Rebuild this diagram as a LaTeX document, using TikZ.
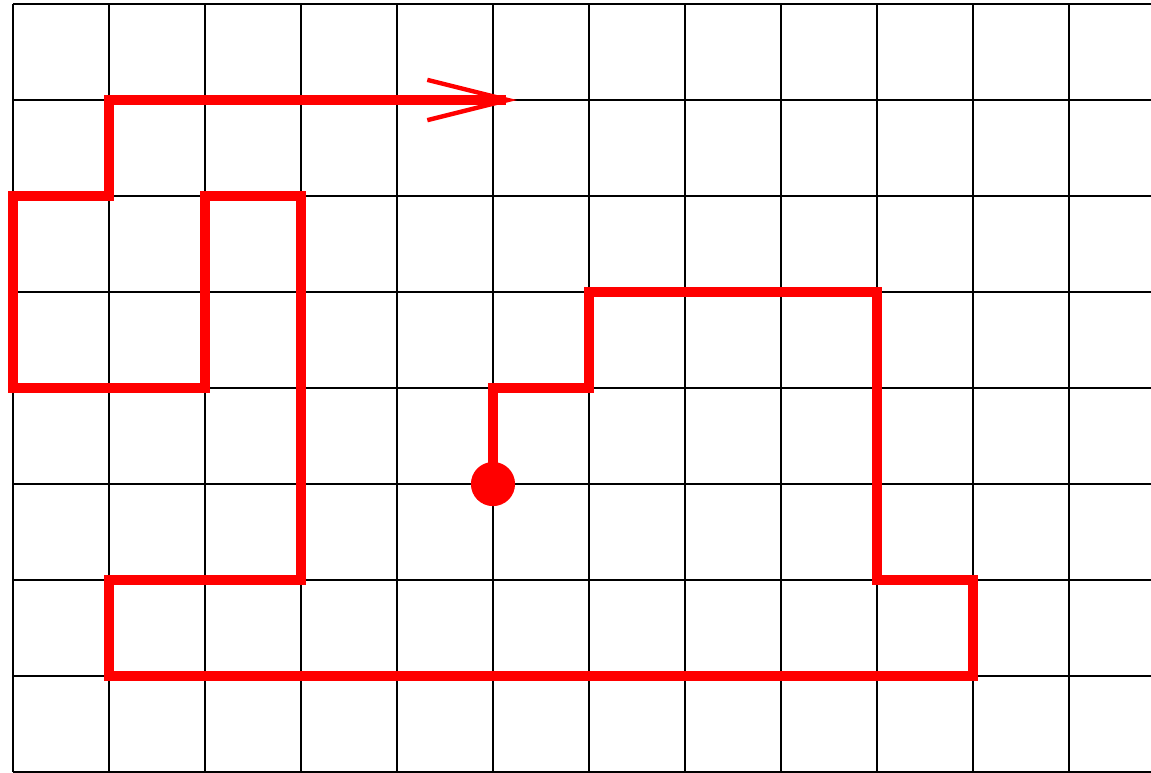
\documentclass[tikz,border=0pt]{standalone}
\usepackage{xcolor}
\usepackage{tikz}
\usetikzlibrary{arrows.meta}

\begin{document}
\begin{tikzpicture}[
    gridline/.style={black, line width=0.6pt},
    walkpath/.style={red, line width=2.7pt, line join=miter},
    walkarrow/.style={-{Straight Barb[length=8.4mm, width=4.2mm, line width=1.3pt]}},
    startdot/.style={circle, fill=red, inner sep=0pt, minimum size=4.6mm}
]

% --- Frame of the picture ---
\useasboundingbox (-0.135,0) rectangle (11.854,8.042);
\clip (-0.135,0) rectangle (11.854,8.042);

% --- Lattice ---
\draw[gridline] (0,0) grid (12,8);

% --- Start point ---
\node[startdot] (start) at (5,3) {};

% --- Walk ---
\draw[walkpath, walkarrow] (start.center) -- (5,4) -- (6,4) -- (6,5) -- (9,5) -- (9,2)
    -- (10,2) -- (10,1) -- (1,1) -- (1,2) -- (3,2) -- (3,6) -- (2,6) -- (2,4)
    -- (0,4) -- (0,6) -- (1,6) -- (1,7) -- (5.25,7);

\end{tikzpicture}
\end{document}
